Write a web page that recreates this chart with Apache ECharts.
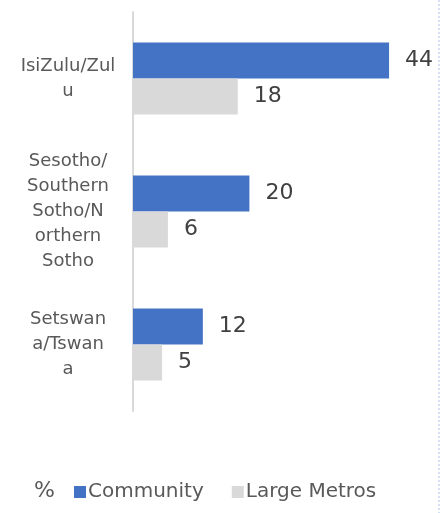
<!DOCTYPE html>
<html>
<head>
<meta charset="utf-8">
<script src="https://cdn.jsdelivr.net/npm/echarts@6/dist/echarts.min.js"></script>
<style>
  html, body { margin: 0; padding: 0; background: #fff; }
  #chart { width: 447px; height: 513px; }
</style>
</head>
<body>
<div id="chart"></div>
<script>
var categories = ['IsiZulu/Zul\nu', 'Sesotho/\nSouthern\nSotho/N\northern\nSotho', 'Setswan\na/Tswan\na'];
var community = [44, 20, 12];
var largeMetros = [18, 6, 5];

var font = 'Century Gothic, "DejaVu Sans", sans-serif';
var chart = echarts.init(document.getElementById('chart'));
var option = {
  animation: false,
  title: {
    text: '%',
    left: 29,
    top: 475,
    textStyle: { fontFamily: font, fontSize: 22, fontWeight: 'normal', color: '#595959' }
  },
  legend: {
    left: 69,
    top: 477,
    itemWidth: 12,
    itemHeight: 12,
    itemGap: 28,
    icon: 'rect',
    textStyle: { fontFamily: font, fontSize: 20, color: '#595959', padding: [0, 0, 0, -3] },
    data: ['Community', 'Large Metros']
  },
  grid: { left: 133, right: 23, top: 12, bottom: 102 },
  xAxis: {
    type: 'value',
    min: 0,
    max: 50,
    show: false
  },
  yAxis: {
    type: 'category',
    inverse: true,
    data: categories,
    axisLine: { show: true, lineStyle: { color: '#d9d9d9', width: 2 } },
    axisTick: { show: false },
    axisLabel: {
      margin: 65,
      align: 'center',
      fontFamily: font,
      fontSize: 18,
      lineHeight: 25,
      color: '#595959'
    }
  },
  series: [
    {
      name: 'Community',
      type: 'bar',
      data: community,
      barWidth: 36,
      barGap: '0%',
      itemStyle: { color: '#4472c4' },
      label: { show: true, position: 'right', distance: 16, fontFamily: font, fontSize: 22, color: '#404040' }
    },
    {
      name: 'Large Metros',
      type: 'bar',
      data: largeMetros,
      barWidth: 36,
      barGap: '0%',
      itemStyle: { color: '#d9d9d9' },
      label: { show: true, position: 'right', distance: 16, fontFamily: font, fontSize: 22, color: '#404040' }
    }
  ],
  graphic: [
    {
      type: 'line',
      shape: { x1: 439, y1: 0, x2: 439, y2: 513 },
      style: { stroke: '#a9c4eb', lineWidth: 1, lineDash: [2, 2] }
    }
  ]
};
chart.setOption(option);
</script>
</body>
</html>
